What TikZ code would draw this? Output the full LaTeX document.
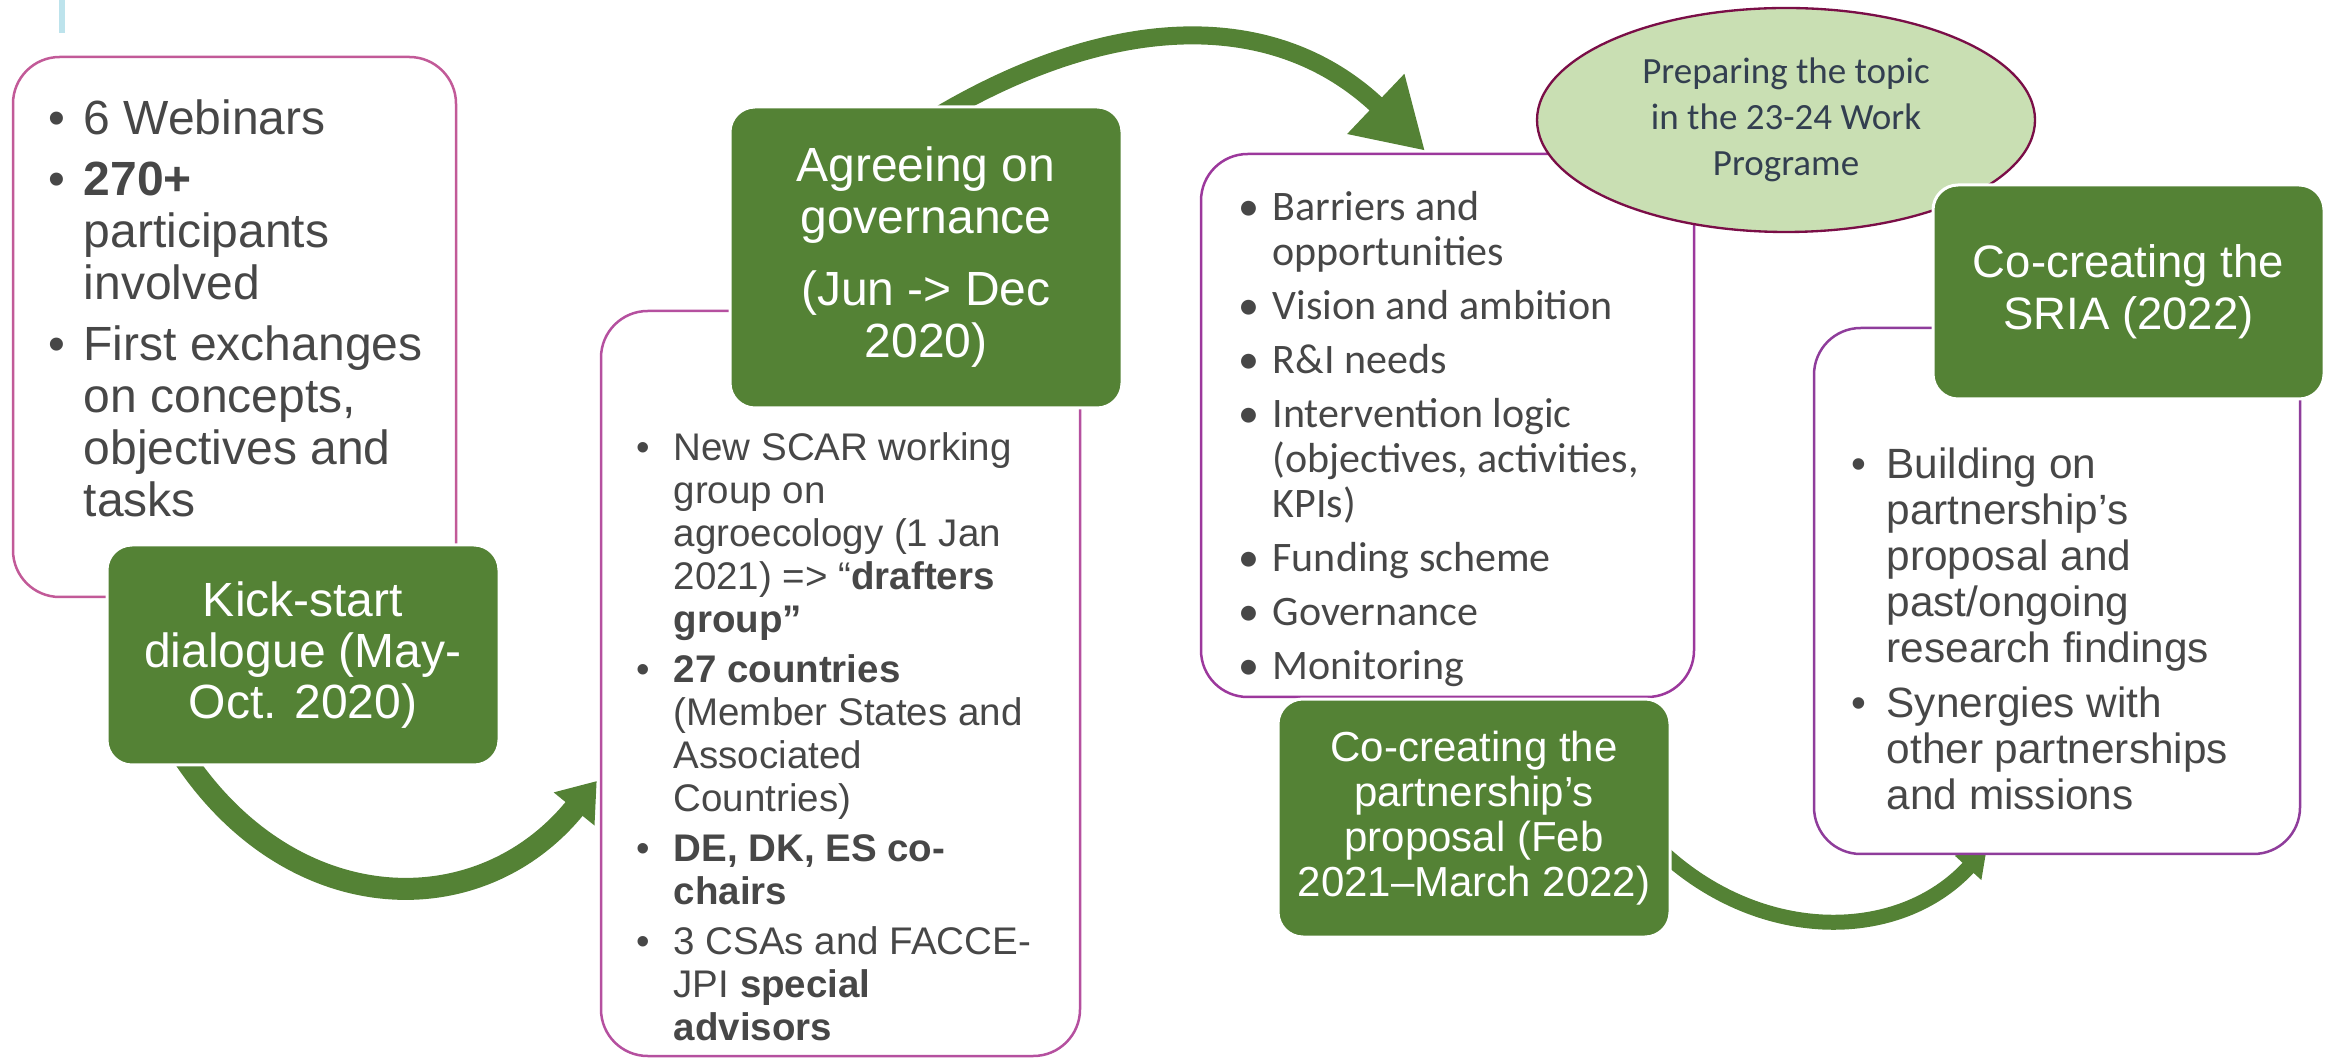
\documentclass[tikz,border=0pt]{standalone}
\usepackage{fontspec}
\setmainfont{Liberation Sans}
\newfontfamily\calib{Carlito}
\usetikzlibrary{arrows.meta,shapes.geometric,calc}
\definecolor{gr}{HTML}{548235}
\definecolor{txt}{HTML}{474747}
\definecolor{bA}{HTML}{C25A98}
\definecolor{bB}{HTML}{B5509F}
\definecolor{bC}{HTML}{9C389C}
\definecolor{bE}{HTML}{8F3D9B}
\definecolor{elf}{HTML}{C9DFB3}
\definecolor{eld}{HTML}{7A0E47}
\definecolor{eltxt}{HTML}{333F50}
\definecolor{lb}{HTML}{BDE3EC}
\newcommand\bit[1]{\makebox[#1][l]{\textbullet}}
\newcommand\cnt[1]{\hspace*{#1}}
\pgfdeclarelayer{bg}
\pgfsetlayers{bg,main}
\begin{document}
\begin{tikzpicture}[x=0.3pt,y=-0.3pt,
  wbox/.style={draw=#1, fill=white, line width=0.75pt, rounded corners=14pt, inner sep=0pt},
  gbox/.style={fill=gr, draw=white, line width=0.9pt, rounded corners=7.5pt, text=white, align=center, inner sep=0pt},
  itm/.style={anchor=north west, align=left, inner sep=0pt, text=txt},
  flow/.style={draw=gr, line width=#1}]
\useasboundingbox (0,0) rectangle (2341,1061);
\fill[lb] (59,0) rectangle (65,33);

% white boxes
\node[wbox=bA, minimum width=132.9pt, minimum height=162pt] (box1) at (234.5,327) {};
\node[wbox=bB, minimum width=143.7pt, minimum height=223.5pt] (box2) at (840.5,683.5) {};
\node[wbox=bC, minimum width=147.9pt, minimum height=162.9pt] (box3) at (1447.5,425.5) {};
\node[wbox=bE, minimum width=145.8pt, minimum height=157.8pt] (box5) at (2057,591) {};

% bullet texts
\node[itm, font=\fontsize{14.4}{15.6}\selectfont] (t1) at (48,99)
 {\bit{10.5pt}6 Webinars\\[2.7pt]
  \bit{10.5pt}\textbf{270+}\\
  \cnt{10.5pt}participants\\
  \cnt{10.5pt}involved\\[2.7pt]
  \bit{10.5pt}First exchanges\\
  \cnt{10.5pt}on concepts,\\
  \cnt{10.5pt}objectives and\\
  \cnt{10.5pt}tasks};

\node[itm, font=\fontsize{11.55}{12.9}\selectfont] (t2) at (636,432)
 {\bit{11.1pt}New SCAR working\\
  \cnt{11.1pt}group on\\
  \cnt{11.1pt}agroecology (1 Jan\\
  \cnt{11.1pt}2021) => “\textbf{drafters}\\
  \cnt{11.1pt}\textbf{group”}\\[2.1pt]
  \bit{11.1pt}\textbf{27 countries}\\
  \cnt{11.1pt}(Member States and\\
  \cnt{11.1pt}Associated\\
  \cnt{11.1pt}Countries)\\[2.1pt]
  \bit{11.1pt}\textbf{DE, DK, ES co-}\\
  \cnt{11.1pt}\textbf{chairs}\\[2.1pt]
  \bit{11.1pt}3 CSAs and FACCE-\\
  \cnt{11.1pt}JPI \textbf{special}\\
  \cnt{11.1pt}\textbf{advisors}};

\node[itm, font=\calib\fontsize{12.6}{13.5}\selectfont] (t3) at (1238,191)
 {\bit{10.2pt}Barriers and\\
  \cnt{10.2pt}opportunities\\[2.7pt]
  \bit{10.2pt}Vision and ambition\\[2.7pt]
  \bit{10.2pt}R\&I needs\\[2.7pt]
  \bit{10.2pt}Intervention logic\\
  \cnt{10.2pt}(objectives, activities,\\
  \cnt{10.2pt}KPIs)\\[2.7pt]
  \bit{10.2pt}Funding scheme\\[2.7pt]
  \bit{10.2pt}Governance\\[2.7pt]
  \bit{10.2pt}Monitoring};

\node[itm, font=\fontsize{12.7}{13.8}\selectfont] (t5) at (1851,447)
 {\bit{10.5pt}Building on\\
  \cnt{10.5pt}partnership’s\\
  \cnt{10.5pt}proposal and\\
  \cnt{10.5pt}past/ongoing\\
  \cnt{10.5pt}research findings\\[2.7pt]
  \bit{10.5pt}Synergies with\\
  \cnt{10.5pt}other partnerships\\
  \cnt{10.5pt}and missions};

% green boxes and ellipse
\node[gbox, font=\fontsize{14.4}{15.3}\selectfont, minimum width=117.6pt, minimum height=66pt] (kick) at (303,655)
 {Kick-start\\dialogue (May-\\Oct. 2020)};
\node[gbox, font=\fontsize{14.4}{15.6}\selectfont, minimum width=117.6pt, minimum height=90.3pt] (agree) at (926,257.5)
 {Agreeing on\\governance\\[6pt](Jun -> Dec\\2020)};
\node[gbox, font=\fontsize{12.6}{13.5}\selectfont, minimum width=117.6pt, minimum height=71.4pt] (prop) at (1474,818)
 {Co-creating the\\partnership’s\\proposal (Feb\\2021–March 2022)};
\node[ellipse, draw=eld, fill=elf, line width=0.7pt, minimum width=149.4pt, minimum height=67.2pt, inner sep=0pt,
  align=center, text=eltxt, font=\calib\fontsize{11.1}{13.8}\selectfont] (topic) at (1786,120)
 {Preparing the topic\\in the 23-24 Work\\Programe};
\node[gbox, font=\fontsize{13.65}{15.6}\selectfont, minimum width=117.3pt, minimum height=64.2pt] (sria) at (2128.5,292)
 {Co-creating the\\SRIA (2022)};

% arrows
\begin{pgfonlayer}{bg}
\draw[flow=6.6pt, -{Triangle[length=10.8pt,width=15pt]}]
  ($(kick.south west)!0.2!(kick.south east)+(0,-8)$) .. controls (294,921) and (480,925) .. ($(box2.west)+(-3,97.5)$);
\draw[flow=5.4pt, -{Triangle[length=20.4pt,width=23.4pt]}]
  ($(agree.north)+(16,8)$) .. controls (1118,11) and (1277,10) .. ($(box3.north)+(-22.5,-2)$);
\draw[flow=4.5pt, -{Triangle[length=8.4pt,width=10.2pt]}]
  ($(prop.east)+(-8,35)$) .. controls (1763,944) and (1900,942) .. ($(box5.south)+(-70,-8)$);
\end{pgfonlayer}
\end{tikzpicture}
\end{document}
